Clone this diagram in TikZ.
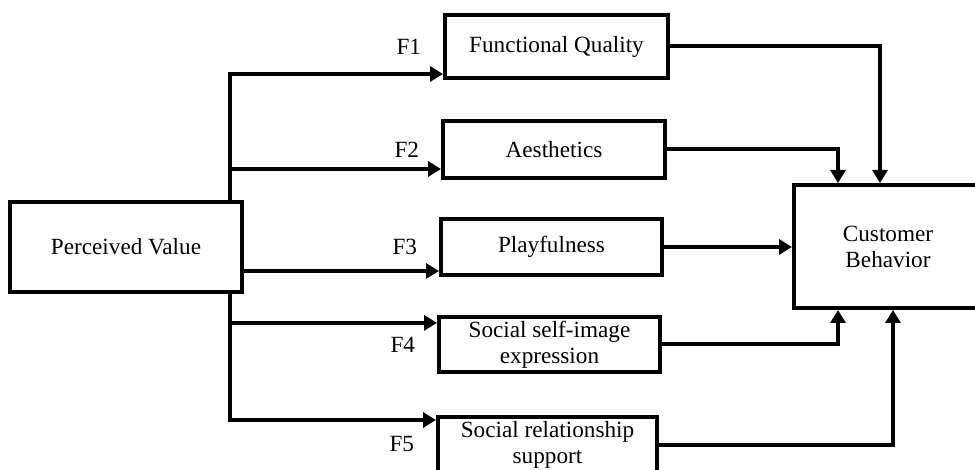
\documentclass[tikz,border=0pt]{standalone}
\usepackage{fontspec}
\setmainfont{Liberation Serif}
\usetikzlibrary{arrows.meta,positioning,calc}

\begin{document}
\begin{tikzpicture}[
    x=0.5pt, y=-0.5pt,
    line width=2pt,
    every node/.style={font=\fontsize{11.6}{13}\selectfont},
    box/.style={draw, line width=2pt, align=center, inner sep=2pt},
    flabel/.style={inner sep=0pt, left=10pt of #1},
    >={Triangle[length=6.5pt,width=7.5pt]}
  ]
    \useasboundingbox (0,0) rectangle (975,470);

    \node[box, minimum width=116pt, minimum height=45pt] (pv) at (126,247) {Perceived Value};

    \node[box, minimum width=111.5pt, minimum height=31.5pt] (fq) at (556.5,46.5) {Functional Quality};
    \node[box, minimum width=111pt, minimum height=28.5pt] (ae) at (554,149.5) {Aesthetics};
    \node[box, minimum width=110.5pt, minimum height=28pt] (pf) at (551.5,247) {Playfulness};
    \node[box, minimum width=110.5pt, minimum height=27.5pt] (se) at (549.5,344.5) {Social self-image\\expression};
    \node[box, minimum width=109.5pt, minimum height=27.5pt] (sr) at (547.5,444.5) {Social relationship\\support};

    \node[box, minimum width=94pt, minimum height=61.5pt] (cb) at (888,246.5) {Customer\\Behavior};

    \node[flabel=fq] (f1) {F1};
    \node[flabel=ae] (f2) {F2};
    \node[flabel=pf] (f3) {F3};
    \node[flabel=se] (f4) {F4};
    \node[flabel=sr] (f5) {F5};

    % perceived value to the five factors
    \draw[->] ([xshift=-7pt]pv.north east) |- ([yshift=3pt]fq.south west);
    \draw[->] ([xshift=-7pt]pv.north east) |- ([yshift=5.5pt]ae.south west);
    \draw[->] ([yshift=3pt]pf.south west -| pv.east) -- ([yshift=3pt]pf.south west);
    \draw[->] ([xshift=-7pt]pv.south east) |- ([yshift=-4pt]se.north west);
    \draw[->] ([xshift=-7pt]pv.south east) |- ([yshift=-2.5pt]sr.north west);

    % factors to customer behavior
    \draw[->] (fq.east) -| ([xshift=44pt]cb.north west);
    \draw[->] (ae.east) -| ([xshift=23pt]cb.north west);
    \draw[->] (pf.east) -- (cb.west |- pf.east);
    \draw[->] (se.east) -| ([xshift=23pt]cb.south west);
    \draw[->] (sr.east) -| ([xshift=50.5pt]cb.south west);
\end{tikzpicture}
\end{document}
